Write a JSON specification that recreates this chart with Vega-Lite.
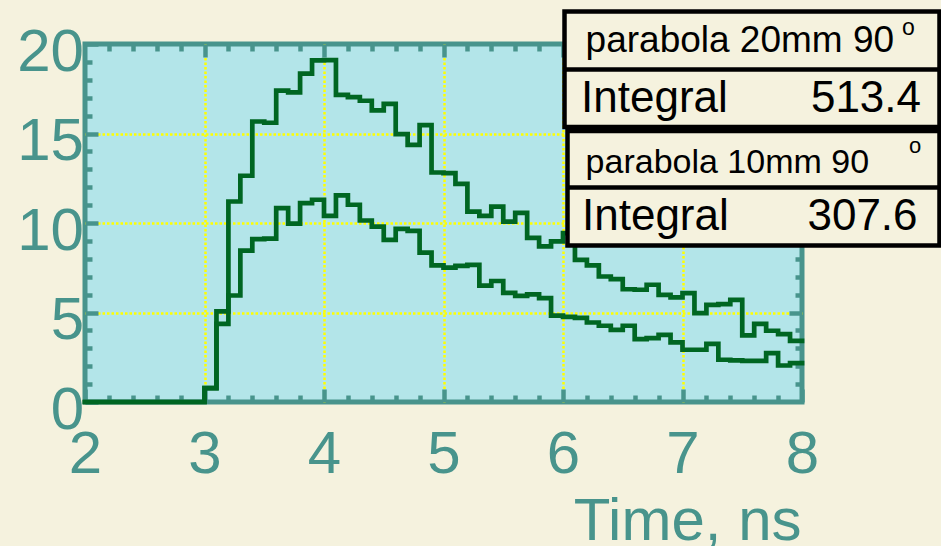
{
  "$schema": "https://vega.github.io/schema/vega-lite/v6.json",
  "width": 717,
  "height": 358,
  "autosize": {"type": "none"},
  "padding": {"left": 85, "top": 44, "right": 139, "bottom": 144},
  "background": "#F5F2DE",
  "config": {
    "view": {"fill": "#B3E5E9", "stroke": "#48948C", "strokeWidth": 5},
    "font": "Liberation Sans",
    "axis": {
      "domain": false,
      "tickColor": "#48948C",
      "tickWidth": 4.5,
      "labelColor": "#48948C",
      "labelFont": "Liberation Sans",
      "labelFontSize": 60,
      "titleFont": "Liberation Sans",
      "titleColor": "#48948C",
      "titleFontSize": 60,
      "titleFontWeight": "normal",
      "gridColor": "#FFFF00",
      "gridDash": [2.5, 2],
      "gridWidth": 2.5,
      "gridOpacity": 1,
      "labelFlush": false,
      "labelOverlap": false,
      "labelBound": false
    }
  },
  "datasets": {
    "hist": [
      {"t": 2.0, "a": 0, "b": 0}, {"t": 2.1, "a": 0, "b": 0}, {"t": 2.2, "a": 0, "b": 0}, {"t": 2.3, "a": 0, "b": 0},
      {"t": 2.4, "a": 0, "b": 0}, {"t": 2.5, "a": 0, "b": 0}, {"t": 2.6, "a": 0, "b": 0}, {"t": 2.7, "a": 0, "b": 0},
      {"t": 2.8, "a": 0, "b": 0}, {"t": 2.9, "a": 0, "b": 0},
      {"t": 3.0, "a": 0.78, "b": 0.78}, {"t": 3.1, "a": 5.06, "b": 4.37}, {"t": 3.2, "a": 11.2, "b": 5.95},
      {"t": 3.3, "a": 12.64, "b": 8.46}, {"t": 3.4, "a": 15.67, "b": 9.1}, {"t": 3.5, "a": 15.6, "b": 9.13},
      {"t": 3.6, "a": 17.4, "b": 10.83}, {"t": 3.7, "a": 17.3, "b": 9.96}, {"t": 3.8, "a": 18.35, "b": 11.11},
      {"t": 3.9, "a": 19.08, "b": 11.3}, {"t": 4.0, "a": 19.1, "b": 10.4}, {"t": 4.1, "a": 17.16, "b": 11.54},
      {"t": 4.2, "a": 17.03, "b": 11.02}, {"t": 4.3, "a": 16.83, "b": 10.14}, {"t": 4.4, "a": 16.29, "b": 9.8},
      {"t": 4.5, "a": 16.66, "b": 9.06}, {"t": 4.6, "a": 14.97, "b": 9.67}, {"t": 4.7, "a": 14.37, "b": 9.56},
      {"t": 4.8, "a": 15.47, "b": 8.35}, {"t": 4.9, "a": 12.82, "b": 7.63}, {"t": 5.0, "a": 12.79, "b": 7.51},
      {"t": 5.1, "a": 12.19, "b": 7.61}, {"t": 5.2, "a": 10.64, "b": 7.66}, {"t": 5.3, "a": 10.4, "b": 6.5},
      {"t": 5.4, "a": 10.92, "b": 6.76}, {"t": 5.5, "a": 10.08, "b": 6.1}, {"t": 5.6, "a": 10.57, "b": 5.93},
      {"t": 5.7, "a": 9.17, "b": 6.01}, {"t": 5.8, "a": 8.69, "b": 5.8}, {"t": 5.9, "a": 8.97, "b": 4.83},
      {"t": 6.0, "a": 9.43, "b": 4.76}, {"t": 6.1, "a": 7.94, "b": 4.7}, {"t": 6.2, "a": 7.63, "b": 4.44},
      {"t": 6.3, "a": 7.01, "b": 4.26}, {"t": 6.4, "a": 6.86, "b": 4.03}, {"t": 6.5, "a": 6.3, "b": 4.26},
      {"t": 6.6, "a": 6.27, "b": 3.51}, {"t": 6.7, "a": 6.55, "b": 3.57}, {"t": 6.8, "a": 5.99, "b": 3.75},
      {"t": 6.9, "a": 5.84, "b": 3.33}, {"t": 7.0, "a": 6.08, "b": 2.92}, {"t": 7.1, "a": 4.97, "b": 2.92},
      {"t": 7.2, "a": 5.43, "b": 3.25}, {"t": 7.3, "a": 5.47, "b": 2.36}, {"t": 7.4, "a": 5.71, "b": 2.32},
      {"t": 7.5, "a": 3.72, "b": 2.3}, {"t": 7.6, "a": 4.37, "b": 2.3}, {"t": 7.7, "a": 3.98, "b": 2.73},
      {"t": 7.8, "a": 3.79, "b": 2.04}, {"t": 7.9, "a": 3.42, "b": 2.17}, {"t": 8.0, "a": 3.42, "b": 2.17}
    ],
    "stats": [
      {"name": "parabola 20mm 90", "integral": 513.4},
      {"name": "parabola 10mm 90", "integral": 307.6}
    ]
  },
  "layer": [
    {
      "data": {"name": "hist"},
      "mark": {"type": "line", "interpolate": "step-after", "color": "#006622", "strokeWidth": 4.7, "strokeJoin": "miter", "strokeCap": "square"},
      "encoding": {
        "x": {"field": "t", "type": "quantitative", "scale": {"domain": [2, 8], "nice": false, "zero": false},
          "axis": {"orient": "bottom", "values": [2, 3, 4, 5, 6, 7, 8], "format": "d", "tickSize": -13, "labelPadding": 36, "labelBaseline": "top", "grid": false,
            "title": "Time, ns", "titleAnchor": "end", "titleAlign": "right", "titleX": 716, "titleY": 137, "titleBaseline": "alphabetic"}},
        "y": {"field": "a", "type": "quantitative", "scale": {"domain": [0, 20], "nice": false, "zero": false},
          "axis": {"orient": "left", "values": [0, 5, 10, 15, 20], "format": "d", "tickSize": -13, "labelPadding": 14.5, "labelBaseline": "middle", "labelOffset": 8, "grid": false, "title": null}}
      }
    },
    {
      "data": {"name": "hist"},
      "mark": {"type": "line", "interpolate": "step-after", "color": "#006622", "strokeWidth": 4.7, "strokeJoin": "miter", "strokeCap": "square"},
      "encoding": {
        "x": {"field": "t", "type": "quantitative", "scale": {"domain": [2, 8], "nice": false, "zero": false},
          "axis": {"orient": "bottom", "values": [2.2, 2.4, 2.6, 2.8, 3.2, 3.4, 3.6, 3.8, 4.2, 4.4, 4.6, 4.8, 5.2, 5.4, 5.6, 5.8, 6.2, 6.4, 6.6, 6.8, 7.2, 7.4, 7.6, 7.8], "tickSize": -7, "labels": false, "grid": false, "title": null}},
        "y": {"field": "b", "type": "quantitative", "scale": {"domain": [0, 20], "nice": false, "zero": false},
          "axis": {"orient": "left", "values": [1, 2, 3, 4, 6, 7, 8, 9, 11, 12, 13, 14, 16, 17, 18, 19], "tickSize": -7, "labels": false, "grid": false, "title": null}}
      }
    },
    {
      "data": {"name": "stats"},
      "transform": [{"filter": {"field": "name", "equal": "parabola 20mm 90"}}],
      "mark": {"type": "rect", "fill": "#F5F2DE", "stroke": "#000000", "strokeWidth": 4.5},
      "encoding": {
        "x": {"datum": 6.0126, "type": "quantitative", "axis": {"orient": "top", "values": [3, 4, 5, 6, 7], "tickSize": -13, "labels": false, "grid": true, "title": null}},
        "x2": {"datum": 9.1506},
        "y": {"datum": 21.816, "type": "quantitative", "axis": {"orient": "right", "values": [5, 10, 15], "tickSize": -13, "labels": false, "grid": true, "title": null}},
        "y2": {"datum": 15.363}
      }
    },
    {
      "data": {"name": "stats"},
      "transform": [{"filter": {"field": "name", "equal": "parabola 10mm 90"}}],
      "mark": {"type": "rect", "fill": "#F5F2DE", "stroke": "#000000", "strokeWidth": 4.5},
      "encoding": {
        "x": {"datum": 6.0377, "type": "quantitative", "axis": {"orient": "top", "values": [2.2, 2.4, 2.6, 2.8, 3.2, 3.4, 3.6, 3.8, 4.2, 4.4, 4.6, 4.8, 5.2, 5.4, 5.6, 5.8, 6.2, 6.4, 6.6, 6.8, 7.2, 7.4, 7.6, 7.8], "tickSize": -7, "labels": false, "grid": false, "title": null}},
        "x2": {"datum": 9.1506},
        "y": {"datum": 15.14, "type": "quantitative", "axis": {"orient": "right", "values": [1, 2, 3, 4, 6, 7, 8, 9, 11, 12, 13, 14, 16, 17, 18, 19], "tickSize": -7, "labels": false, "grid": false, "title": null}},
        "y2": {"datum": 8.743}
      }
    },
    {
      "data": {"name": "stats"},
      "transform": [{"filter": {"field": "name", "equal": "parabola 20mm 90"}}],
      "mark": {"type": "rule", "stroke": "#000000", "strokeWidth": 4.5},
      "encoding": {
        "x": {"datum": 6.0126, "type": "quantitative", "axis": null},
        "x2": {"datum": 9.1506},
        "y": {"datum": 18.575, "type": "quantitative", "axis": null}
      }
    },
    {
      "data": {"name": "stats"},
      "transform": [{"filter": {"field": "name", "equal": "parabola 10mm 90"}}],
      "mark": {"type": "rule", "stroke": "#000000", "strokeWidth": 4.5},
      "encoding": {
        "x": {"datum": 6.0377, "type": "quantitative", "axis": null},
        "x2": {"datum": 9.1506},
        "y": {"datum": 11.983, "type": "quantitative", "axis": null}
      }
    },
    {
      "data": {"name": "stats"},
      "transform": [{"filter": {"field": "name", "equal": "parabola 20mm 90"}}],
      "mark": {"type": "text", "font": "Liberation Sans", "fontSize": 37, "align": "left", "baseline": "alphabetic", "color": "#000000"},
      "encoding": {
        "x": {"datum": 6.189, "type": "quantitative", "axis": null},
        "y": {"datum": 19.553, "type": "quantitative", "axis": null},
        "text": {"field": "name"}
      }
    },
    {
      "data": {"name": "stats"},
      "transform": [{"filter": {"field": "name", "equal": "parabola 20mm 90"}}],
      "mark": {"type": "text", "font": "Liberation Sans", "fontSize": 23, "align": "left", "baseline": "alphabetic", "color": "#000000"},
      "encoding": {
        "x": {"datum": 8.837, "type": "quantitative", "axis": null},
        "y": {"datum": 20.503, "type": "quantitative", "axis": null},
        "text": {"value": "o"}
      }
    },
    {
      "data": {"name": "stats"},
      "transform": [{"filter": {"field": "name", "equal": "parabola 20mm 90"}}],
      "mark": {"type": "text", "font": "Liberation Sans", "fontSize": 44, "align": "left", "baseline": "alphabetic", "color": "#000000"},
      "encoding": {
        "x": {"datum": 6.151, "type": "quantitative", "axis": null},
        "y": {"datum": 16.201, "type": "quantitative", "axis": null},
        "text": {"value": "Integral"}
      }
    },
    {
      "data": {"name": "stats"},
      "transform": [{"filter": {"field": "name", "equal": "parabola 20mm 90"}}],
      "mark": {"type": "text", "font": "Liberation Sans", "fontSize": 44, "align": "right", "baseline": "alphabetic", "color": "#000000"},
      "encoding": {
        "x": {"datum": 8.996, "type": "quantitative", "axis": null},
        "y": {"datum": 16.201, "type": "quantitative", "axis": null},
        "text": {"field": "integral", "type": "quantitative", "format": ".1f"}
      }
    },
    {
      "data": {"name": "stats"},
      "transform": [{"filter": {"field": "name", "equal": "parabola 10mm 90"}}],
      "mark": {"type": "text", "font": "Liberation Sans", "fontSize": 34, "align": "left", "baseline": "alphabetic", "color": "#000000"},
      "encoding": {
        "x": {"datum": 6.189, "type": "quantitative", "axis": null},
        "y": {"datum": 12.793, "type": "quantitative", "axis": null},
        "text": {"field": "name"}
      }
    },
    {
      "data": {"name": "stats"},
      "transform": [{"filter": {"field": "name", "equal": "parabola 10mm 90"}}],
      "mark": {"type": "text", "font": "Liberation Sans", "fontSize": 22, "align": "left", "baseline": "alphabetic", "color": "#000000"},
      "encoding": {
        "x": {"datum": 8.895, "type": "quantitative", "axis": null},
        "y": {"datum": 13.91, "type": "quantitative", "axis": null},
        "text": {"value": "o"}
      }
    },
    {
      "data": {"name": "stats"},
      "transform": [{"filter": {"field": "name", "equal": "parabola 10mm 90"}}],
      "mark": {"type": "text", "font": "Liberation Sans", "fontSize": 44, "align": "left", "baseline": "alphabetic", "color": "#000000"},
      "encoding": {
        "x": {"datum": 6.159, "type": "quantitative", "axis": null},
        "y": {"datum": 9.609, "type": "quantitative", "axis": null},
        "text": {"value": "Integral"}
      }
    },
    {
      "data": {"name": "stats"},
      "transform": [{"filter": {"field": "name", "equal": "parabola 10mm 90"}}],
      "mark": {"type": "text", "font": "Liberation Sans", "fontSize": 44, "align": "right", "baseline": "alphabetic", "color": "#000000"},
      "encoding": {
        "x": {"datum": 8.967, "type": "quantitative", "axis": null},
        "y": {"datum": 9.609, "type": "quantitative", "axis": null},
        "text": {"field": "integral", "type": "quantitative", "format": ".1f"}
      }
    }
  ],
  "resolve": {"axis": {"x": "independent", "y": "independent"}}
}
